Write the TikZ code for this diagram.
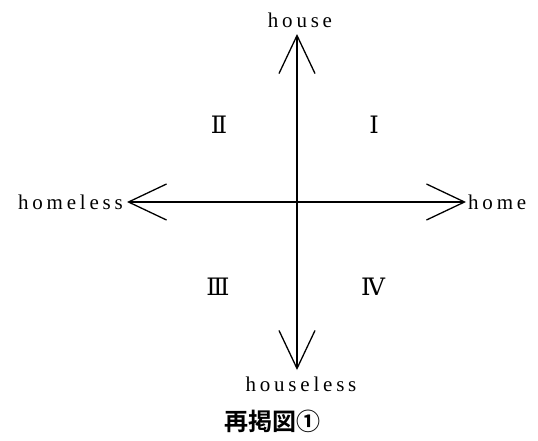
\documentclass[tikz,border=0pt]{standalone}
\usepackage{fontspec}
\setmainfont{Liberation Serif}
\newfontfamily\lsfont[LetterSpace=18]{Liberation Serif}
\newfontfamily\romfont{DejaVu Serif}
\newfontfamily\cjkbold[BoldFont={Noto Sans CJK JP Bold}]{Noto Sans CJK JP}
\usetikzlibrary{arrows.meta}
\begin{document}
\begin{tikzpicture}[x=1pt,y=-1pt,
  axis/.style={line width=1.3pt,{Straight Barb[length=38pt,width=36pt,line width=1.3pt]}-{Straight Barb[length=38pt,width=36pt,line width=1.3pt]}},
  lab/.style={inner sep=0pt,font=\fontsize{21}{22}\lsfont},
  quad/.style={inner sep=0pt,font=\fontsize{24}{26}\romfont}]
\useasboundingbox (0,0) rectangle (538,440);
\coordinate (T) at (297,34);
\coordinate (B) at (297,370);
\coordinate (L) at (127,202);
\coordinate (R) at (466,202);
\draw[axis] (T) -- (B);
\draw[axis] (L) -- (R);
\node[lab,anchor=south] (house) at (300,28) {house};
\node[lab,anchor=east] (homeless) at (123,202) {homeless};
\node[lab,anchor=west] (home) at (468,202) {home};
\node[lab,anchor=north] (houseless) at (301,377) {houseless};
\node[quad] (q1) at (374,125) {Ⅰ};
\node[quad] (q2) at (219,125) {Ⅱ};
\node[quad] (q3) at (218,287) {Ⅲ};
\node[quad] (q4) at (373,287) {Ⅳ};
\node[inner sep=0pt,font=\fontsize{24}{26}\cjkbold\bfseries] (cap) at (272,421) {再掲図①};
\end{tikzpicture}
\end{document}
